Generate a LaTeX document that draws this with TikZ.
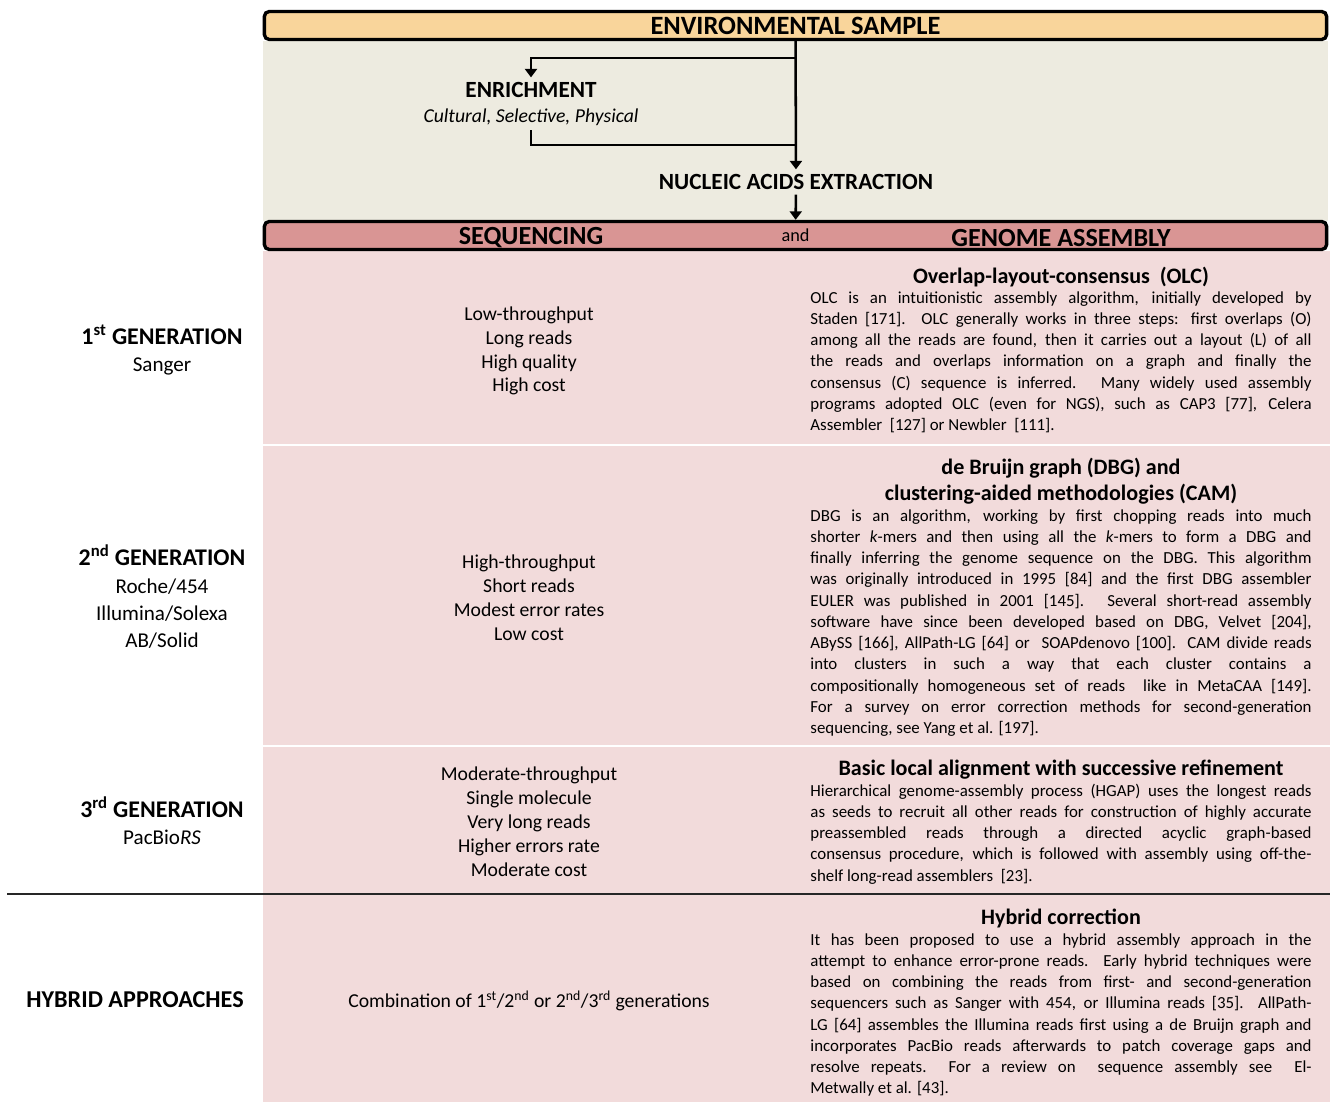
\documentclass[tikz,border=0pt]{standalone}
\usepackage{fontspec}
\setmainfont{Carlito}
\usetikzlibrary{arrows.meta,positioning}
\definecolor{samplecol}{RGB}{249,213,155}
\definecolor{prepcol}{RGB}{237,235,224}
\definecolor{seqcol}{RGB}{217,149,148}
\definecolor{rowcol}{RGB}{242,219,219}
\newcommand{\fsz}[2]{\fontsize{#1}{#2}\selectfont}
\begin{document}
\begin{tikzpicture}[x=0.025cm, y=-0.025cm, >={Triangle[length=6pt,width=8.5pt]},
  bar/.style={draw, line width=2.4pt, rounded corners=3.5pt, minimum width=26.55cm, minimum height=0.7cm, inner sep=0pt},
  prep/.style={font=\fsz{16.5}{20}\bfseries},
  heading/.style={font=\fsz{18.6}{22}\bfseries},
  gen/.style={align=center, font=\fsz{15}{19.5}},
  feature/.style={align=center, font=\fsz{14}{17}},
  method/.style={align=center, font=\fsz{15.7}{18.5}\bfseries},
  detail/.style={text width=12.525cm, align=justify, inner sep=0pt, anchor=north, font=\fsz{12}{15.1}},
  flow/.style={line width=1.8pt}]
\useasboundingbox (0,0) rectangle (1330,1102);
\fill[prepcol] (263,41) rectangle (1328,221);
\fill[rowcol] (263,251) rectangle (1330,1102);
\draw[white, line width=2pt] (263,445) -- (1330,445);
\draw[white, line width=2pt] (263,746) -- (1330,746);
\draw[black!85, line width=1.5pt] (7,894) -- (1330,894);

\node[bar, fill=samplecol, font=\fsz{18.8}{22}\bfseries] (sample) at (795.5,25.5) {ENVIRONMENTAL SAMPLE};
\node[prep] (enrich) at (531,90) {ENRICHMENT};
\node[font=\fsz{14}{17}\itshape] (means) at (531,117) {Cultural, Selective, Physical};
\node[prep] (extract) at (796,182) {NUCLEIC ACIDS EXTRACTION};
\node[bar, fill=seqcol, font=\fsz{13}{16}] (seqbar) at (795.5,235.5) {and};
\node[heading] (seqhead) at (531,238) {SEQUENCING};
\node[heading] (asmhead) at (1061,238) {GENOME ASSEMBLY};
\coordinate (split) at (796,58);
\coordinate (merge) at (796,145);
\draw[flow, ->] (sample) -- (extract);
\draw[flow, ->] (split) -| (enrich);
\draw[flow] (means) |- (merge);
\draw[flow, ->] (extract) -- (seqbar);

\node[gen] (gen1) at (162,350) {{\fsz{17}{20}\bfseries 1\textsuperscript{st} GENERATION}\\Sanger};
\node[gen] (gen2) at (162,597) {{\fsz{17}{20}\bfseries 2\textsuperscript{nd} GENERATION}\\Roche/454\\Illumina/Solexa\\AB/Solid};
\node[gen] (gen3) at (162,821) {{\fsz{17}{20}\bfseries 3\textsuperscript{rd} GENERATION}\\PacBio\textit{RS}};
\node[gen, font=\fsz{17.2}{20}\bfseries] (hybrid) at (135,1000) {HYBRID APPROACHES};

\node[feature] (feat1) at (529,351) {Low-throughput\\Long reads\\High quality\\High cost};
\node[feature] (feat2) at (529,598) {High-throughput\\Short reads\\Modest error rates\\Low cost};
\node[feature] (feat3) at (529,822) {Moderate-throughput\\Single molecule\\Very long reads\\Higher errors rate\\Moderate cost};
\node[feature] (feat4) at (529,1001) {Combination of 1\textsuperscript{st}/2\textsuperscript{nd} or 2\textsuperscript{nd}/3\textsuperscript{rd} generations};

\node[method] (olc) at (1061,277) {Overlap-layout-consensus~~(OLC)};
\node[detail] (olcbody) at (1061,288) {\strut OLC is an intuitionistic assembly algorithm, initially developed by\linebreak Staden [171]. OLC generally works in three steps: first overlaps (O)\linebreak among all the reads are found, then it carries out a layout (L) of all\linebreak the reads and overlaps information on a graph and finally the\linebreak consensus (C) sequence is inferred. Many widely used assembly\linebreak programs adopted OLC (even for NGS), such as CAP3 [77], Celera\linebreak Assembler~~[127] or Newbler~~[111].};
\node[method] (dbg) at (1061,481) {de Bruijn graph (DBG) and\\clustering-aided methodologies (CAM)};
\node[detail] (dbgbody) at (1061,506) {\strut DBG is an algorithm, working by first chopping reads into much\linebreak shorter \textit{k}-mers and then using all the \textit{k}-mers to form a DBG and\linebreak finally inferring the genome sequence on the DBG. This algorithm\linebreak was originally introduced in 1995 [84] and the first DBG assembler\linebreak EULER was published in 2001 [145]. Several short-read assembly\linebreak software have since been developed based on DBG, Velvet [204],\linebreak ABySS [166], AllPath-LG [64] or~~SOAPdenovo [100]. CAM divide reads\linebreak into clusters in such a way that each cluster contains a\linebreak compositionally homogeneous set of reads~~like in MetaCAA [149].\linebreak For a survey on error correction methods for second-generation\linebreak sequencing, see Yang et al. [197].};
\node[method] (hgap) at (1061,770) {Basic local alignment with successive refinement};
\node[detail] (hgapbody) at (1061,781) {\strut Hierarchical genome-assembly process (HGAP) uses the longest reads\linebreak as seeds to recruit all other reads for construction of highly accurate\linebreak preassembled reads through a directed acyclic graph-based\linebreak consensus procedure, which is followed with assembly using off-the-\linebreak{}shelf long-read assemblers~~[23].};
\node[method] (hyb) at (1061,918) {Hybrid correction};
\node[detail] (hybbody) at (1061,930) {\strut It has been proposed to use a hybrid assembly approach in the\linebreak attempt to enhance error-prone reads. Early hybrid techniques were\linebreak based on combining the reads from first- and second-generation\linebreak sequencers such as Sanger with 454, or Illumina reads [35]. AllPath-\linebreak{}LG [64] assembles the Illumina reads first using a de Bruijn graph and\linebreak incorporates PacBio reads afterwards to patch coverage gaps and\linebreak resolve repeats.~~For a review on~~sequence assembly see~~El-\linebreak{}Metwally et al. [43].};
\end{tikzpicture}
\end{document}
